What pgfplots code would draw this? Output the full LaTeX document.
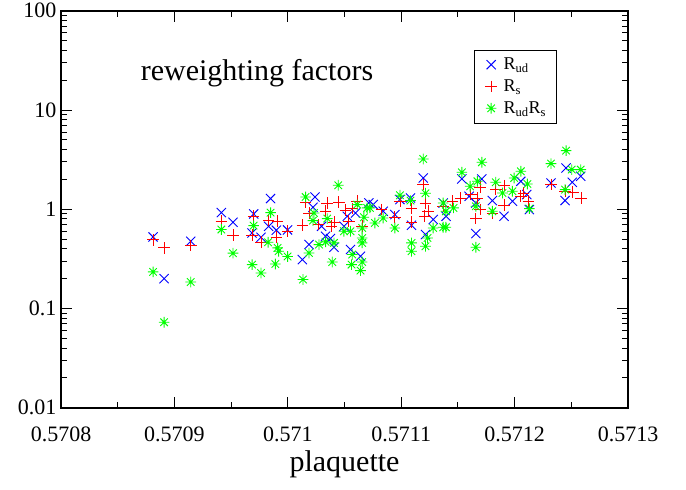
\documentclass[border=0pt]{standalone}
\usepackage{fontspec}
\setmainfont{Liberation Serif}
\usepackage{pgfplots}
\pgfplotsset{compat=1.18}
\pgfdeclareplotmark{star8}{%
  \pgfpathmoveto{\pgfqpoint{-\pgfplotmarksize}{0pt}}\pgfpathlineto{\pgfqpoint{\pgfplotmarksize}{0pt}}%
  \pgfpathmoveto{\pgfqpoint{0pt}{-\pgfplotmarksize}}\pgfpathlineto{\pgfqpoint{0pt}{\pgfplotmarksize}}%
  \pgfpathmoveto{\pgfqpoint{-.7071\pgfplotmarksize}{-.7071\pgfplotmarksize}}\pgfpathlineto{\pgfqpoint{.7071\pgfplotmarksize}{.7071\pgfplotmarksize}}%
  \pgfpathmoveto{\pgfqpoint{-.7071\pgfplotmarksize}{.7071\pgfplotmarksize}}\pgfpathlineto{\pgfqpoint{.7071\pgfplotmarksize}{-.7071\pgfplotmarksize}}%
  \pgfusepathqstroke}
\definecolor{gblue}{RGB}{0,0,255}
\definecolor{gred}{RGB}{255,0,0}
\definecolor{ggreen}{RGB}{0,255,0}
\begin{document}
\begin{tikzpicture}
\path (0,0) rectangle (686pt,489pt);
\begin{axis}[
  at={(61pt,82pt)}, anchor=south west,
  scale only axis, width=567pt, height=397pt,
  ymode=log,
  xmin=0.5708, xmax=0.5713, ymin=0.01, ymax=100,
  xtick={0.5708,0.5709,0.571,0.5711,0.5712,0.5713},
  xticklabels={0.5708,0.5709,0.571,0.5711,0.5712,0.5713},
  scaled x ticks=false,
  minor x tick num=1,
  ytick={0.01,0.1,1,10,100},
  yticklabels={0.01,0.1,1,10,100},
  xtick pos=both, ytick pos=both,
  tick align=inside,
  major tick length=11pt, minor tick length=6pt,
  axis line style={line width=1.6pt},
  every tick/.style={line width=1pt, black},
  tick label style={font=\fontsize{22}{26}\selectfont},
  xticklabel style={yshift=-16pt},
  yticklabel style={xshift=-1pt},
  xlabel={plaquette},
  xlabel style={font=\fontsize{30}{35}\selectfont, yshift=-2pt},
  legend style={at={(rel axis cs:0.728,0.902)}, anchor=north west,
    draw=black, line width=0.8pt, font=\fontsize{18}{21}\selectfont,
    row sep=4.5pt, inner xsep=8pt, inner ysep=6pt},
  legend image code/.code={\draw[#1] plot coordinates {(0.3cm,0cm)};
    \path (0cm,0cm) (0.65cm,0cm);},
  legend cell align=left,
]
\addplot[only marks, mark=x, mark size=6.5pt, gblue, line width=0.9pt] coordinates {
(0.5708812,0.526) (0.5709144,0.476) (0.5708909,0.200) (0.5709414,0.926)
(0.5709517,0.740) (0.5709699,0.897) (0.5709685,0.577) (0.5709848,1.282)
(0.5709831,0.674) (0.5709899,0.615) (0.5709998,0.619) (0.5709764,0.522)
(0.5710240,1.330) (0.5710222,1.047) (0.5710298,0.674) (0.5710715,1.157)
(0.5710524,0.850) (0.5710597,0.918) (0.5710495,0.674) (0.5710333,0.535)
(0.5710377,0.507) (0.5710187,0.441) (0.5710407,0.414) (0.5710128,0.311)
(0.5710553,0.393) (0.5710641,0.336) (0.5711194,2.066) (0.5710989,1.252)
(0.5711082,1.300) (0.5711282,0.788) (0.5710753,1.115) (0.5710841,0.955)
(0.5710944,0.884) (0.5711091,0.690) (0.5711214,0.556) (0.5711370,1.157)
(0.5711396,0.850) (0.5711535,2.019) (0.5711711,2.019) (0.5712055,1.914)
(0.5711599,1.352) (0.5711804,1.224) (0.5711981,1.204) (0.5711658,1.157)
(0.5711907,0.850) (0.5711658,0.569) (0.5712454,2.606) (0.5712583,2.149)
(0.5712509,1.870) (0.5712321,1.840) (0.5712445,1.224) (0.5712107,1.406)
(0.5712130,0.993)
};
\addlegendentry{R\textsubscript{ud}}
\addplot[only marks, mark=+, mark size=5.8pt, gred, line width=0.9pt] coordinates {
(0.5708812,0.491) (0.5708909,0.408) (0.5709144,0.431) (0.5709414,0.757)
(0.5709517,0.547) (0.5709699,0.850) (0.5709685,0.547) (0.5709831,0.769)
(0.5709910,0.757) (0.5709998,0.600) (0.5709899,0.522) (0.5709764,0.465)
(0.5710157,1.184) (0.5710348,1.157) (0.5710451,1.176) (0.5710187,0.918)
(0.5710333,0.955) (0.5710128,0.690) (0.5710269,0.701) (0.5710407,0.745)
(0.5710386,0.674) (0.5710509,0.977) (0.5710568,1.016) (0.5710612,1.204)
(0.5710539,0.757) (0.5710656,0.674) (0.5711194,1.773) (0.5710989,1.204)
(0.5711091,1.016) (0.5711214,1.157) (0.5711238,0.955) (0.5711209,0.850)
(0.5710826,0.993) (0.5710944,0.831) (0.5711091,0.745) (0.5711370,1.072)
(0.5711696,1.665) (0.5711834,1.579) (0.5711907,1.732) (0.5712055,1.352)
(0.5711526,1.300) (0.5711614,1.406) (0.5711672,1.300) (0.5711907,1.097)
(0.5711696,0.993) (0.5711804,0.918) (0.5711658,0.806) (0.5711452,1.204)
(0.5712321,1.773) (0.5712445,1.518) (0.5712513,1.494) (0.5712586,1.300)
(0.5712078,1.459) (0.5712122,1.204)
};
\addlegendentry{R\textsubscript{s}}
\addplot[only marks, mark=star8, mark size=5.3pt, ggreen, line width=0.9pt] coordinates {
(0.5708812,0.234) (0.5709144,0.185) (0.5708909,0.0728) (0.5709414,0.625)
(0.5709517,0.361) (0.5709699,0.685) (0.5709685,0.277) (0.5709848,0.926)
(0.5709826,0.465) (0.5709910,0.408) (0.5709919,0.378) (0.5709998,0.334)
(0.5709890,0.281) (0.5709764,0.228) (0.5710445,1.744) (0.5710157,1.330)
(0.5710231,0.918) (0.5710348,0.806) (0.5710222,0.769) (0.5710612,1.115)
(0.5710700,1.031) (0.5710671,0.831) (0.5710553,0.600) (0.5710495,0.600)
(0.5710656,0.648) (0.5710275,0.441) (0.5710333,0.469) (0.5710407,0.458)
(0.5710656,0.514) (0.5710656,0.458) (0.5710187,0.363) (0.5710568,0.350)
(0.5710392,0.294) (0.5710562,0.277) (0.5710656,0.294) (0.5710641,0.241)
(0.5710134,0.196) (0.5711194,3.211) (0.5711214,1.449) (0.5710989,1.384)
(0.5711082,1.224) (0.5711282,0.648) (0.5710841,0.817) (0.5710724,1.031)
(0.5710768,0.728) (0.5710944,0.648) (0.5711232,0.514) (0.5711214,0.424)
(0.5711091,0.458) (0.5711091,0.378) (0.5711370,1.157) (0.5711370,0.659)
(0.5711711,2.974) (0.5711535,2.358) (0.5711672,1.914) (0.5711608,1.704)
(0.5711834,1.870) (0.5711996,2.066) (0.5712055,2.413) (0.5711893,1.459)
(0.5711981,1.518) (0.5711658,1.072) (0.5711804,0.955) (0.5711461,1.031)
(0.5711394,0.955) (0.5711394,0.659) (0.5711658,0.414) (0.5712454,3.900)
(0.5712321,2.885) (0.5712504,2.510) (0.5712583,2.510) (0.5712445,1.579)
(0.5712113,1.798) (0.5712130,1.016)
};
\addlegendentry{R\textsubscript{ud}R\textsubscript{s}}
\node[font=\fontsize{30}{35}\selectfont] at (rel axis cs:0.3457,0.844) {reweighting factors};
\end{axis}
\end{tikzpicture}
\end{document}
